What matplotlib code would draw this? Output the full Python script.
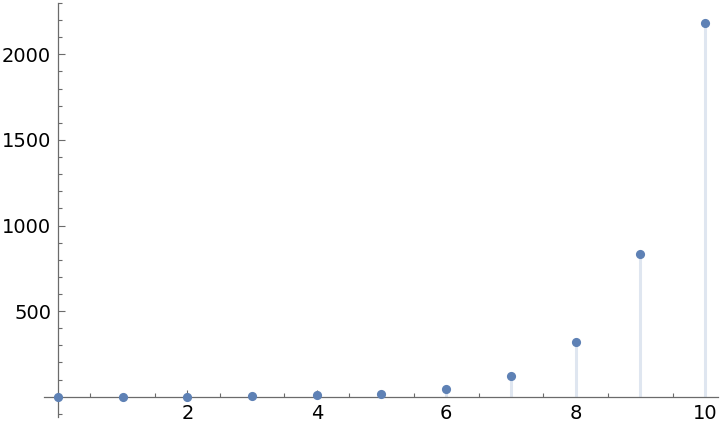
import matplotlib
matplotlib.use("Agg")
import matplotlib.pyplot as plt
from matplotlib.ticker import MultipleLocator

# values
n = [0, 1, 2, 3, 4, 5, 6, 7, 8, 9, 10]
values = [0, 0.5, 1, 3, 7, 18, 46, 123, 320, 834, 2185]
x_ticks = [2, 4, 6, 8, 10]
y_ticks = [500, 1000, 1500, 2000]

point_color = "#5e81b5"
fill_color = "#dfe6f0"
axis_color = "#6b6b6b"

fig = plt.figure(figsize=(7.2, 4.28), dpi=100)
ax = fig.add_axes([0.0611, 0.0264, 0.936, 0.9666])

# filling down to the axis, then the points
ax.vlines(n, 0, values, color=fill_color, lw=2.2, zorder=2)
ax.plot(n, values, "o", color=point_color, ms=6.6, mec="none", zorder=4, clip_on=False)

ax.set_xlim(-0.216, 10.2)
ax.set_ylim(-117, 2300)

# axes cross at the origin, like Mathematica
for side in ["top", "right"]:
    ax.spines[side].set_visible(False)
ax.spines["left"].set_position(("data", 0))
ax.spines["bottom"].set_position(("data", 0))
for side in ["left", "bottom"]:
    ax.spines[side].set_color(axis_color)
    ax.spines[side].set_linewidth(0.9)
    ax.spines[side].set_zorder(3)

ax.set_xticks(x_ticks)
ax.set_yticks(y_ticks)
ax.xaxis.set_minor_locator(MultipleLocator(0.5))
ax.yaxis.set_minor_locator(MultipleLocator(100))
ax.tick_params(which="both", direction="in", color=axis_color, width=0.8,
               labelsize=14, labelcolor="black")
ax.tick_params(which="major", length=5)
ax.tick_params(which="minor", length=3)
ax.tick_params(axis="x", pad=5.5)
ax.tick_params(axis="y", pad=5)

fig.savefig("out.png", dpi=100)
